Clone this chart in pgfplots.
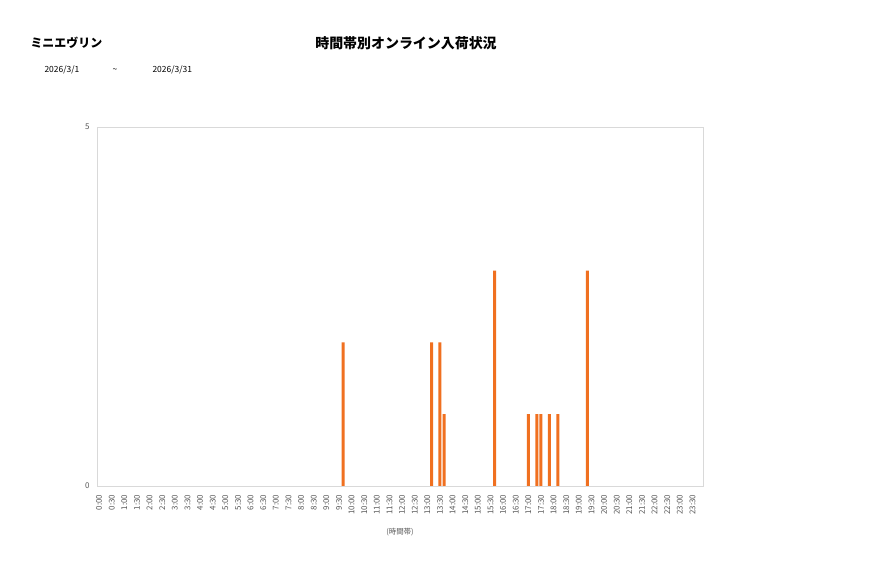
\documentclass[border=0pt]{standalone}
\usepackage{pgfplots}
\pgfplotsset{compat=1.18}
\usepackage{fontspec}
\setmainfont{Noto Sans CJK JP}
\definecolor{barorange}{HTML}{F07020}
\definecolor{framegray}{HTML}{D9D9D9}
\definecolor{ticktext}{HTML}{595959}
\begin{document}
\begin{tikzpicture}[x=1bp,y=1bp]
\path[use as bounding box,fill=white] (0,0) rectangle (877,578);
\node[anchor=west,font=\fontsize{12}{14}\selectfont\bfseries] at (27,535) {ミニエヴリン};
\node[font=\fontsize{14}{16}\selectfont\bfseries] at (406,535) {時間帯別オンライン入荷状況};
\node[anchor=west,font=\fontsize{8.5}{10}\selectfont] at (41,508) {2026/3/1};
\node[font=\fontsize{8.5}{10}\selectfont] at (115,507) {{\char"007E}};
\node[anchor=west,font=\fontsize{8.5}{10}\selectfont] at (149,508) {2026/3/31};
\begin{axis}[
  at={(97bp,92bp)}, anchor=south west,
  width=606bp, height=359bp, scale only axis,
  ybar, bar width=3bp,
  xmin=-0.5, xmax=143.5,
  ymin=0, ymax=5,
  ytick={0,5},
  xtick={0,3,...,141},
  xticklabels={0:00,0:30,1:00,1:30,2:00,2:30,3:00,3:30,4:00,4:30,5:00,5:30,6:00,6:30,7:00,7:30,8:00,8:30,9:00,9:30,10:00,10:30,11:00,11:30,12:00,12:30,13:00,13:30,14:00,14:30,15:00,15:30,16:00,16:30,17:00,17:30,18:00,18:30,19:00,19:30,20:00,20:30,21:00,21:30,22:00,22:30,23:00,23:30},
  xticklabel style={rotate=90, anchor=east, font=\fontsize{8}{9}\selectfont, text=ticktext},
  yticklabel style={font=\fontsize{8}{9}\selectfont, text=ticktext},
  /pgf/number format/assume math mode=true,
  tick style={draw=none},
  axis line style={framegray},
  xlabel={(時間帯)},
  xlabel style={font=\fontsize{7.5}{8}\selectfont, text=ticktext, at={(axis description cs:0.5,0)}, anchor=center, yshift=-46bp},
  ytick pos=left, xtick pos=bottom,
  yticklabel shift=4bp, xticklabel shift=1bp,
]
\addplot[fill=barorange, draw=none] coordinates {
  (58,2) (79,2) (81,2) (82,1) (94,3) (102,1) (104,1) (105,1) (107,1) (109,1) (116,3)
};
\end{axis}
\end{tikzpicture}
\end{document}
